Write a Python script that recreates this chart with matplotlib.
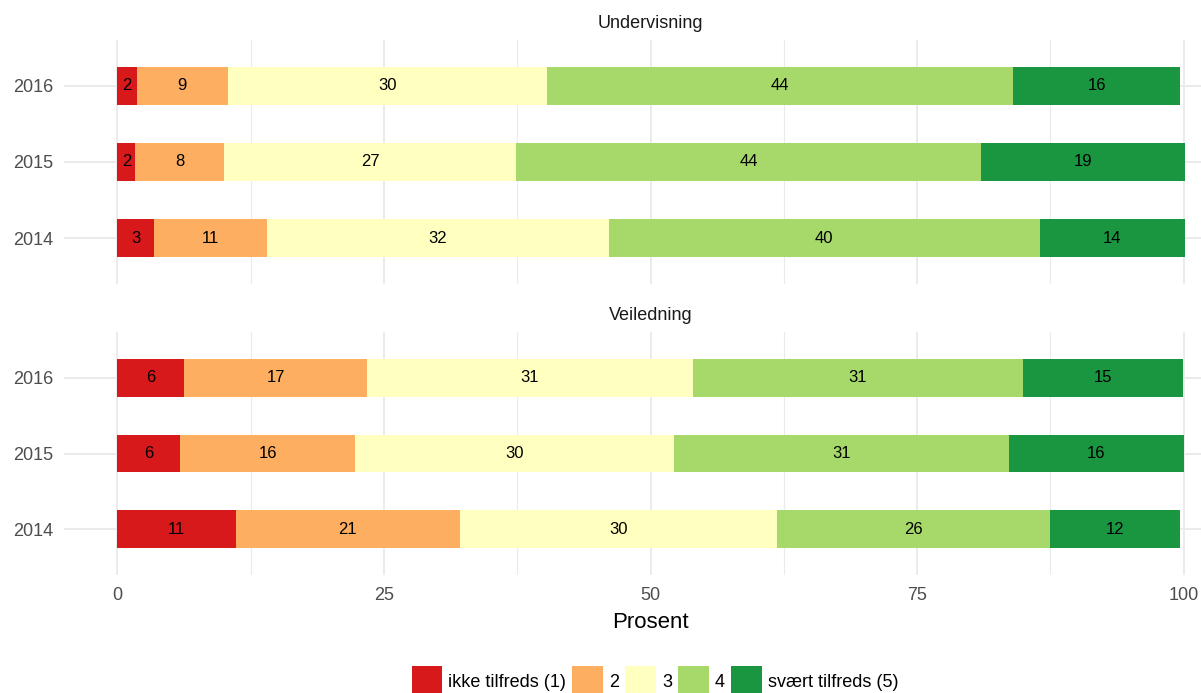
import matplotlib
matplotlib.use("Agg")
import matplotlib.pyplot as plt
from matplotlib.patches import Patch
from matplotlib.ticker import MultipleLocator

years = ["2014", "2015", "2016"]
levels = ["ikke tilfreds (1)", "2", "3", "4", "svært tilfreds (5)"]
colors = ["#D7191C", "#FDAE61", "#FFFFBF", "#A6D96A", "#1A9641"]

# percent per level, in the order of `years`
und_1 = [3.4, 1.7, 1.8]
und_2 = [10.6, 8.3, 8.6]
und_3 = [32.1, 27.4, 29.9]
und_4 = [40.4, 43.6, 43.7]
und_5 = [13.6, 19.1, 15.7]

vei_1 = [11.1, 5.9, 6.3]
vei_2 = [21.0, 16.4, 17.1]
vei_3 = [29.8, 29.9, 30.6]
vei_4 = [25.6, 31.4, 30.9]
vei_5 = [12.2, 16.4, 15.0]

panels = [
    ("Undervisning", [und_1, und_2, und_3, und_4, und_5]),
    ("Veiledning", [vei_1, vei_2, vei_3, vei_4, vei_5]),
]

plt.rcParams["font.family"] = ["Liberation Sans", "DejaVu Sans"]

W, H = 1201, 693
fig = plt.figure(figsize=(W / 100, H / 100), dpi=100)

# panel boxes in pixels: (top, bottom)
boxes = [(40, 284), (332, 575)]
x_left, x_right = 64, 1237
grid = "#EBEBEB"


def draw_panel(ax, title, series, show_x):
    ypos = list(range(1, len(years) + 1))
    left = [0.0] * len(years)
    for vals, col in zip(series, colors):
        ax.barh(ypos, vals, left=left, height=0.5, color=col, edgecolor="none", zorder=2)
        for y, l, v in zip(ypos, left, vals):
            ax.text(l + v / 2, y, f"{v:.0f}", ha="center", va="center",
                    fontsize=12, color="black", zorder=3)
        left = [a + b for a, b in zip(left, vals)]

    ax.set_xlim(-5, 105)
    ax.set_ylim(0.4, len(years) + 0.6)
    ax.set_yticks(ypos)
    ax.set_yticklabels(years)
    ax.xaxis.set_major_locator(MultipleLocator(25))
    ax.xaxis.set_minor_locator(MultipleLocator(12.5))
    ax.grid(True, which="major", color=grid, lw=1.4, zorder=0)
    ax.grid(True, which="minor", axis="x", color=grid, lw=0.8, zorder=0)
    ax.set_axisbelow(True)
    for s in ax.spines.values():
        s.set_visible(False)
    ax.tick_params(axis="both", which="both", length=0, labelsize=13, colors="#4D4D4D")
    ax.tick_params(axis="y", pad=8)
    ax.tick_params(axis="x", pad=9)
    if not show_x:
        ax.tick_params(axis="x", labelbottom=False)
    ax.text(0.5, 1, title, transform=ax.transAxes, ha="center", va="center",
            fontsize=13, color="#1A1A1A")


for i, ((title, series), (top, bottom)) in enumerate(zip(panels, boxes)):
    ax = fig.add_axes([x_left / W, 1 - bottom / H, (x_right - x_left) / W, (bottom - top) / H])
    draw_panel(ax, title, series, show_x=(i == len(panels) - 1))
    # move the strip title above the panel
    ax.texts[-1].set_position((0.5, 1 + 16.5 / (bottom - top)))

fig.text(650 / W, 1 - 628 / H, "Prosent", ha="center", va="baseline", fontsize=16, color="black")

handles = [Patch(facecolor=c, edgecolor="none") for c in colors]
fig.legend(handles, levels, loc="center", bbox_to_anchor=(655 / W, 1 - 681 / H), ncol=5,
           frameon=False, fontsize=13, handlelength=1.68, handleheight=2.26,
           handletextpad=0.35, columnspacing=0.35, borderpad=0, borderaxespad=0)

fig.savefig("out.png", dpi=100)
